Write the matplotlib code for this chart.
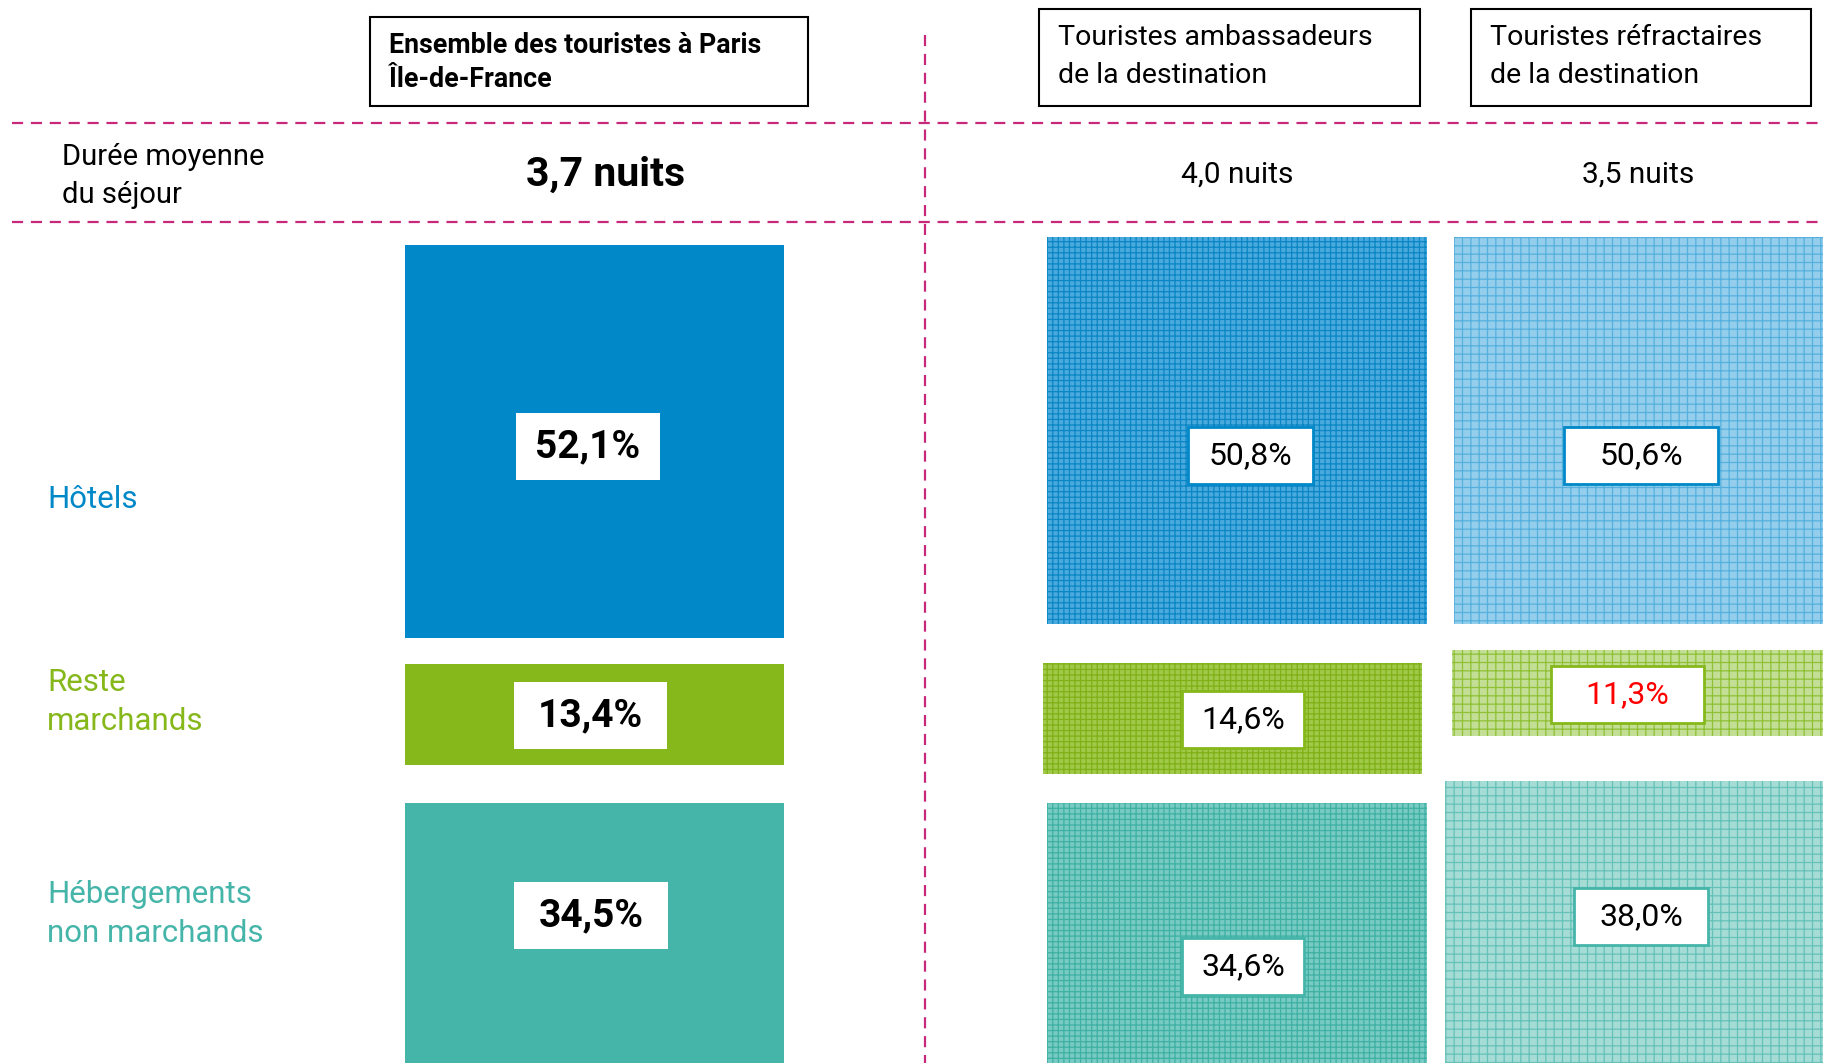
import matplotlib
matplotlib.use("Agg")
import matplotlib.pyplot as plt
from matplotlib.patches import Rectangle

# donnees
groupes = ["Ensemble des touristes à Paris\nÎle-de-France",
           "Touristes ambassadeurs\nde la destination",
           "Touristes réfractaires\nde la destination"]
durees = [3.7, 4.0, 3.5]
categories = ["Hôtels", "Reste\nmarchands", "Hébergements\nnon marchands"]
ensemble = [52.1, 13.4, 34.5]
ambassadeurs = [50.8, 14.6, 34.6]
refractaires = [50.6, 11.3, 38.0]
valeurs = [ensemble, ambassadeurs, refractaires]

plt.rcParams['font.family'] = ['Roboto', 'DejaVu Sans']
plt.rcParams['hatch.linewidth'] = 0.9

couleurs = ['#0088c8', '#86b81b', '#45b5aa']
# (fond, hachure) pour colonnes 2 et 3
motif2 = [('#4aaade', '#0a86c4'), ('#a0c94a', '#7fb016'), ('#78cbc2', '#3fb0a4')]
motif3 = [('#95ceec', '#55b0de'), ('#c3de95', '#8fc035'), ('#a6dcd6', '#64c1b8')]
rose = '#c8287a'

k = [7.54, 7.62, 7.65]  # px par %, par colonne
# x0, x1 des colonnes ; haut de chaque bloc
col_x = [[(405, 784)] * 3,
         [(1047, 1427), (1043, 1422), (1047, 1427)],
         [(1454, 1823), (1452, 1823), (1445, 1823)]]
col_top = [[245, 664, 803], [237, 663, 803], [237, 650, 781]]
# centres et tailles des etiquettes
lab_pos = [[(588, 446), (590, 715), (591, 915)],
           [(1250, 455), (1243, 719), (1243, 966)],
           [(1641, 455), (1627, 694), (1641, 916)]]
lab_size = [[(144, 67), (153, 67), (154, 67)],
            [(125, 57), (122, 57), (122, 57)],
            [(154, 57), (153, 57), (134, 57)]]

fig = plt.figure(figsize=(18.23, 10.63), dpi=100)
ax = fig.add_axes([0, 0, 1, 1])
ax.set_xlim(0, 1823)
ax.set_ylim(1063, 0)
ax.axis('off')

# lignes pointillees
ax.plot([12, 1823], [123, 123], color=rose, lw=1.6, ls=(0, (5, 3.5)))
ax.plot([12, 1823], [222, 222], color=rose, lw=1.6, ls=(0, (5, 3.5)))
ax.plot([925, 925], [35, 1063], color=rose, lw=1.6, ls=(0, (5, 3.5)))

# en-tetes
boites = [(370, 17, 438, 89), (1039, 9, 381, 97), (1471, 9, 340, 97)]
for i, (x, y, w, h) in enumerate(boites):
    ax.add_patch(Rectangle((x, y), w, h, fc='white', ec='black', lw=1.5))
    if i == 0:
        ax.text(x + 19, y + h / 2 + 1, groupes[i], fontsize=19.3, fontweight='bold',
                ha='left', va='center', linespacing=1.38)
    else:
        ax.text(x + 19, y + h / 2 - 1, groupes[i], fontsize=20.5,
                ha='left', va='center', linespacing=1.55)

ax.text(62, 176, "Durée moyenne\ndu séjour", fontsize=21, ha='left', va='center',
        linespacing=1.45)
centres_duree = [606, 1237, 1638]
for i, d in enumerate(durees):
    s = "{:.1f} nuits".format(d).replace('.', ',')
    if i == 0:
        ax.text(centres_duree[i], 175, s, fontsize=29.5, fontweight='bold',
                ha='center', va='center')
    else:
        ax.text(centres_duree[i], 175, s, fontsize=21.5, ha='center', va='center')

# categories
cat_y = [500, 702, 914]
for j, c in enumerate(categories):
    ax.text(47, cat_y[j], c, color=couleurs[j], fontsize=22.5, ha='left', va='center',
            linespacing=1.45)

# blocs
for i in range(3):
    for j in range(3):
        x0, x1 = col_x[i][j]
        y0 = col_top[i][j]
        h = valeurs[i][j] * k[i]
        if i == 0:
            ax.add_patch(Rectangle((x0, y0), x1 - x0, h, fc=couleurs[j], ec='none'))
        else:
            fond, hach = (motif2 if i == 1 else motif3)[j]
            ax.add_patch(Rectangle((x0, y0), x1 - x0, h, fc=fond, ec=hach, lw=0,
                                   hatch='+++' if i == 1 else '++'))
        cx, cy = lab_pos[i][j]
        w, hh = lab_size[i][j]
        if i == 0:
            ax.add_patch(Rectangle((cx - w / 2, cy - hh / 2), w, hh, fc='white', ec='none'))
        else:
            ax.add_patch(Rectangle((cx - w / 2, cy - hh / 2), w, hh, fc='white',
                                   ec=couleurs[j], lw=2))
        s = "{:.1f}%".format(valeurs[i][j]).replace('.', ',')
        coul = 'black'
        if i == 2 and j == 1:
            coul = '#ff0000'
        if i == 0:
            ax.text(cx, cy + 1, s, fontsize=28, fontweight='semibold', ha='center',
                    va='center', color=coul)
        else:
            ax.text(cx, cy + 1, s, fontsize=23, ha='center', va='center', color=coul)

fig.savefig("out.png", dpi=100)
